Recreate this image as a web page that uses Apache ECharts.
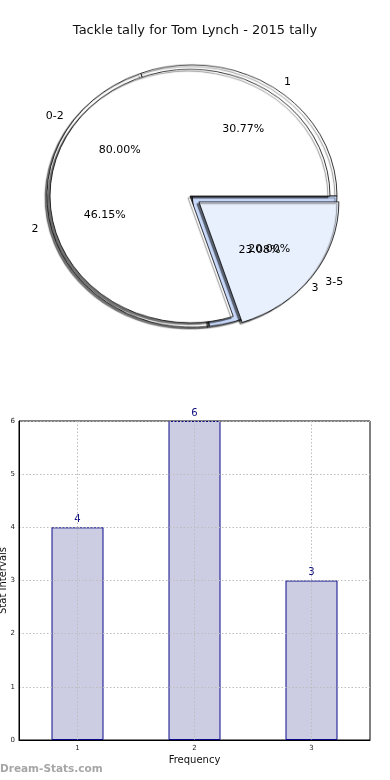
<!DOCTYPE html>
<html>
<head>
<meta charset="utf-8">
<script src="https://cdn.jsdelivr.net/npm/echarts@6/dist/echarts.min.js"></script>
<style>
html,body{margin:0;padding:0;background:#fff;}
#wrap{position:relative;width:390px;height:780px;overflow:hidden;}
#pie{position:absolute;left:0;top:0;width:390px;height:400px;transform:scaleY(0.905);transform-origin:0 196px;}
#c{position:absolute;left:0;top:0;width:390px;height:780px;}
</style>
</head>
<body>
<div id="wrap"><div id="pie"></div><div id="c"></div></div>
<script>
var titleText = 'Tackle tally for Tom Lynch - 2015 tally';
var pie1Names = ['1', '2', '3'];
var pie1Values = [4, 6, 3];
var pie1Colors = ['#ffffff', '#ffffff', '#c8d9fb'];
var pie1Exploded = [false, false, false];
var pie2Names = ['0-2', '3-5'];
var pie2Values = [80, 20];
var pie2Colors = ['#ffffff', '#e9f0fd'];
var pie2Exploded = [false, true];
var barCategories = ['1', '2', '3'];
var barValues = [4, 6, 3];
var yTicks = [0, 1, 2, 3, 4, 5, 6];

var FONT = 'DejaVu Sans';
var K = 0.905;              // vertical squash of the pie (ellipse)
var CY = 196;
var P1 = {cx: 192, r: 145, off: 6};
var P2 = {cx: 190, r: 140, off: 11};

function pct(p) { return p.percent.toFixed(2) + '%'; }
function squash(params) {
  var r = params.labelRect;
  var c = r.y + r.height / 2;
  return {dy: (c - CY) * (K - 1)};
}

var shadow = {shadowColor: 'rgba(0,0,0,0.55)', shadowBlur: 1, shadowOffsetX: -2, shadowOffsetY: 2};

function pieData(names, values, colors, sel) {
  return names.map(function (n, i) {
    return {
      name: n, value: values[i], selected: sel[i],
      itemStyle: Object.assign({color: colors[i], borderColor: '#000', borderWidth: 0.8}, shadow)
    };
  });
}
function labelData(names, values, sel) {
  return names.map(function (n, i) {
    return {name: n, value: values[i], selected: sel[i]};
  });
}

// ---- pie shapes (drawn in a vertically squashed layer so the pie is elliptical) ----
var pieChart = echarts.init(document.getElementById('pie'), null, {renderer: 'canvas'});
pieChart.setOption({
  animation: false,
  series: [
    {
      type: 'pie', center: [P1.cx, CY], radius: P1.r, startAngle: 0, clockwise: false,
      selectedMode: 'multiple', selectedOffset: P1.off, silent: true, z: 1,
      label: {show: false}, labelLine: {show: false}, emphasis: {disabled: true},
      data: pieData(pie1Names, pie1Values, pie1Colors, pie1Exploded)
    },
    {
      type: 'pie', center: [P2.cx, CY], radius: P2.r, startAngle: 0, clockwise: false,
      selectedMode: 'multiple', selectedOffset: P2.off, silent: true, z: 2,
      label: {show: false}, labelLine: {show: false}, emphasis: {disabled: true},
      data: pieData(pie2Names, pie2Values, pie2Colors, pie2Exploded)
    }
  ]
});

// ---- main layer: title, pie labels, bar chart ----
function labelPie(P, names, values, sel, z, outside) {
  var s = {
    type: 'pie', center: [P.cx, CY], startAngle: 0, clockwise: false,
    selectedMode: 'multiple', selectedOffset: P.off, silent: true, z: z,
    avoidLabelOverlap: false, labelLayout: squash,
    itemStyle: {color: 'rgba(0,0,0,0)', borderWidth: 0},
    emphasis: {disabled: true},
    data: labelData(names, values, sel)
  };
  if (outside) {
    s.radius = P.r;
    s.label = {show: true, position: 'outside', fontFamily: FONT, fontSize: 11, color: '#000', formatter: '{b}'};
    s.labelLine = {show: false, length: outside, length2: 0};
  } else {
    s.radius = [P.r * 0.2, P.r];
    s.label = {show: true, position: 'inside', fontFamily: FONT, fontSize: 11, color: '#000', formatter: pct};
    s.labelLine = {show: false};
  }
  return s;
}

var chart = echarts.init(document.getElementById('c'), null, {renderer: 'canvas'});
chart.setOption({
  animation: false,
  backgroundColor: 'transparent',
  textStyle: {fontFamily: FONT},
  title: {
    text: titleText, left: 'center', top: 19,
    textStyle: {fontFamily: FONT, fontSize: 13, fontWeight: 'normal', color: '#111'}
  },
  graphic: [{
    type: 'text', left: 0, top: 764,
    style: {text: 'Dream-Stats.com', font: 'bold 10.5px "DejaVu Sans"', fill: '#a6a6a6'}
  }],
  grid: {
    left: 19, right: 20, top: 421, bottom: 40, outerBoundsMode: 'none', containLabel: false,
    show: true, borderColor: '#000', borderWidth: 1, backgroundColor: '#fff'
  },
  xAxis: {
    type: 'category', data: barCategories, z: 3,
    name: 'Frequency', nameLocation: 'middle', nameGap: 15,
    nameTextStyle: {fontFamily: FONT, fontSize: 10, color: '#111'},
    axisLine: {lineStyle: {color: '#000', width: 1}},
    axisTick: {show: false},
    axisLabel: {fontFamily: FONT, fontSize: 7, color: '#222', margin: 5},
    splitLine: {show: true, alignWithLabel: true, lineStyle: {color: '#bdbdbd', type: [1.5, 2], width: 1}}
  },
  yAxis: {
    type: 'value', min: 0, max: 6, interval: 1, z: 3,
    name: 'Stat Intervals', nameLocation: 'middle', nameGap: 11, nameMoveOverlap: false,
    nameTextStyle: {fontFamily: FONT, fontSize: 10, color: '#111'},
    axisLine: {show: true, lineStyle: {color: '#000', width: 1}},
    axisTick: {show: false},
    axisLabel: {fontFamily: FONT, fontSize: 7, color: '#222', margin: 4,
      formatter: function (v) { return yTicks.indexOf(v) >= 0 ? String(v) : ''; }},
    splitLine: {show: true, lineStyle: {color: '#bdbdbd', type: [1.5, 2], width: 1}}
  },
  series: [
    labelPie(P1, pie1Names, pie1Values, pie1Exploded, 5, 8),
    labelPie(P1, pie1Names, pie1Values, pie1Exploded, 5, 0),
    labelPie(P2, pie2Names, pie2Values, pie2Exploded, 6, 10),
    labelPie(P2, pie2Names, pie2Values, pie2Exploded, 6, 0),
    {
      type: 'bar', data: barValues, barWidth: 52, z: 2,
      itemStyle: {color: '#ccccE3', borderColor: '#0a0a8a', borderWidth: 1},
      label: {show: true, position: 'top', distance: 3, fontFamily: FONT, fontSize: 10, color: '#101080'},
      emphasis: {disabled: true}
    }
  ]
});
</script>
</body>
</html>
